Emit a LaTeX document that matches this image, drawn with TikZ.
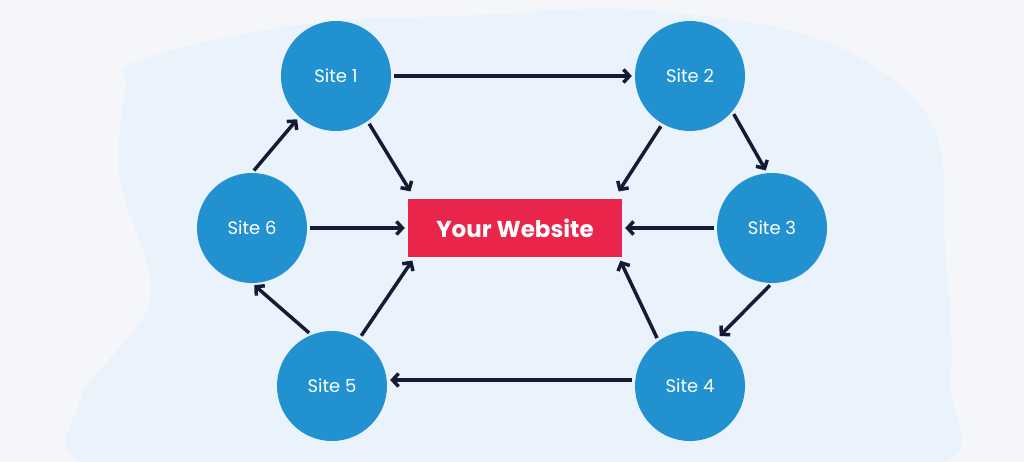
\documentclass[tikz,border=0pt]{standalone}
\usepackage{fontspec}
\setmainfont{Poppins}
\usetikzlibrary{arrows.meta}
\definecolor{bg}{HTML}{F4F6F9}
\definecolor{blob}{HTML}{EAF2FB}
\definecolor{site}{HTML}{2291D0}
\definecolor{web}{HTML}{E9254B}
\definecolor{navy}{HTML}{161B35}
\tikzset{
  sitenode/.style={circle,fill=site,minimum size=110pt,inner sep=0pt,text=white,font=\fontsize{18}{21}\selectfont},
  webnode/.style={rectangle,fill=web,minimum width=214pt,minimum height=57pt,text=white,font=\fontsize{23}{26}\selectfont\bfseries},
  link/.style={draw=navy,line width=3.5pt,-{Straight Barb[length=6pt,width=13pt]},shorten <=3pt,shorten >=3pt}
}
\begin{document}
\begin{tikzpicture}[x=1pt,y=-1pt]
\useasboundingbox (0,0) rectangle (1024,462);
\fill[bg] (0,0) rectangle (1024,462);
\fill[blob] plot[smooth cycle,tension=0.6] coordinates {(140,60) (300,25) (480,15) (640,10) (820,40) (930,120) (945,250) (950,380) (920,470) (500,475) (110,470) (80,400) (150,300) (120,180) (125,90)};
\node[webnode] (w) at (515,228) {Your Website};
\node[sitenode] (s1) at (336,76) {Site 1};
\node[sitenode] (s2) at (690,76) {Site 2};
\node[sitenode] (s3) at (772,228) {Site 3};
\node[sitenode] (s4) at (690,386) {Site 4};
\node[sitenode] (s5) at (332,386) {Site 5};
\node[sitenode] (s6) at (252,228) {Site 6};
\path[link] (s1.east) -- (s2.west);
\path[link] (s1.-55) -- (412,194);
\path[link] (s2.-120) -- (617,194);
\path[link] (s2.-40) -- (s3.95);
\path[link] (s3.west) -- (w.east);
\path[link] (s3.-90) -- (s4.60);
\path[link] (s4.125) -- (619,258);
\path[link] (s4.west |- 0,380) -- (s5.east |- 0,380);
\path[link] (s5.60) -- (414,258);
\path[link] (s5.112) -- (s6.-90);
\path[link] (s6.east) -- (w.west);
\path[link] (s6.90) -- (s1.-132);
\end{tikzpicture}
\end{document}
